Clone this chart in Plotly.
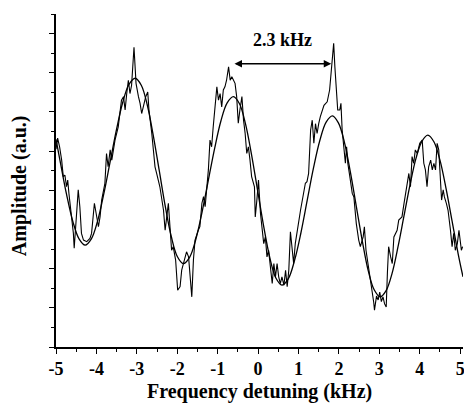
import plotly.graph_objects as go

# ---- data ----
# measured (noisy) spectrum: frequency detuning (kHz) / amplitude (a.u.)
data_x = [
    -5.00, -4.96, -4.91, -4.86, -4.82, -4.78, -4.74, -4.71, -4.68, -4.63,
    -4.57, -4.55, -4.51, -4.47, -4.45, -4.41, -4.37, -4.32, -4.24, -4.16,
    -4.12, -4.05, -3.99, -3.95, -3.91, -3.87, -3.79, -3.75, -3.71, -3.66,
    -3.62, -3.54, -3.46, -3.38, -3.33, -3.29, -3.25, -3.21, -3.17, -3.13,
    -3.07, -3.02, -2.96, -2.92, -2.88, -2.84, -2.78, -2.73, -2.70, -2.63,
    -2.55, -2.51, -2.43, -2.34, -2.30, -2.26, -2.22, -2.18, -2.14, -2.10,
    -2.04, -1.99, -1.93, -1.89, -1.82, -1.77, -1.72, -1.68, -1.64, -1.60,
    -1.56, -1.48, -1.44, -1.39, -1.35, -1.31, -1.27, -1.23, -1.19, -1.15,
    -1.11, -1.06, -1.02, -0.98, -0.94, -0.90, -0.86, -0.82, -0.78, -0.73,
    -0.69, -0.65, -0.61, -0.57, -0.53, -0.49, -0.45, -0.40, -0.36, -0.32,
    -0.28, -0.24, -0.20, -0.16, -0.09, -0.07, -0.03, 0.01, 0.06, 0.10,
    0.14, 0.18, 0.22, 0.26, 0.31, 0.35, 0.39, 0.43, 0.47, 0.51,
    0.55, 0.59, 0.64, 0.68, 0.72, 0.76, 0.80, 0.84, 0.88, 0.92,
    0.97, 1.05, 1.17, 1.21, 1.25, 1.30, 1.34, 1.38, 1.42, 1.46,
    1.50, 1.54, 1.63, 1.71, 1.77, 1.81, 1.84, 1.87, 1.90, 1.93,
    1.97, 2.02, 2.05, 2.08, 2.12, 2.16, 2.19, 2.22, 2.27, 2.33,
    2.37, 2.43, 2.49, 2.53, 2.60, 2.63, 2.67, 2.72, 2.78, 2.82,
    2.86, 2.88, 2.93, 2.97, 3.01, 3.05, 3.09, 3.13, 3.17, 3.20,
    3.23, 3.28, 3.32, 3.36, 3.44, 3.48, 3.56, 3.61, 3.65, 3.69,
    3.73, 3.77, 3.81, 3.85, 3.89, 3.94, 4.00, 4.06, 4.10, 4.14,
    4.18, 4.22, 4.27, 4.31, 4.35, 4.39, 4.43, 4.47, 4.51, 4.54,
    4.58, 4.61, 4.66, 4.70, 4.76, 4.80, 4.84, 4.88, 4.93, 4.97,
    5.03, 5.06,
]
data_y = [
    5.05, 5.33, 5.10, 4.77, 4.35, 4.39, 4.09, 4.26, 3.92, 3.49,
    2.90, 2.52, 3.07, 3.67, 4.01, 3.58, 2.90, 2.73, 2.69, 2.77,
    2.90, 3.67, 3.24, 3.07, 3.32, 3.75, 4.18, 4.94, 4.60, 5.03,
    4.77, 5.28, 5.62, 6.30, 6.39, 6.05, 6.47, 6.81, 6.47, 6.68,
    7.65, 6.73, 6.39, 6.22, 5.96, 6.13, 6.39, 6.51, 6.05, 5.45,
    4.60, 4.43, 4.09, 3.49, 2.98, 3.32, 3.67, 3.07, 2.47, 2.56,
    2.22, 1.45, 1.54, 1.96, 2.22, 2.43, 2.30, 1.79, 1.28, 2.22,
    2.73, 2.98, 3.07, 3.67, 3.84, 3.58, 4.09, 4.52, 5.28, 5.11,
    5.62, 6.22, 6.64, 6.30, 6.47, 6.13, 6.56, 6.64, 6.81, 7.15,
    6.81, 6.90, 6.81, 6.73, 6.39, 5.71, 6.05, 6.39, 5.79, 5.45,
    4.94, 5.11, 4.77, 4.35, 4.09, 3.32, 3.75, 4.26, 3.40, 2.98,
    2.64, 2.81, 2.30, 2.47, 1.96, 1.62, 2.13, 1.79, 2.13, 1.79,
    1.62, 1.79, 1.58, 1.96, 1.54, 1.96, 2.94, 2.56, 2.13, 2.64,
    2.98, 3.49, 4.18, 4.22, 4.43, 5.54, 5.79, 5.20, 5.70, 5.45,
    5.70, 5.88, 6.17, 6.26, 6.56, 6.98, 7.32, 7.75, 7.15, 6.56,
    6.05, 6.05, 6.22, 5.54, 5.03, 4.69, 5.11, 4.69, 4.35, 3.92,
    3.83, 3.15, 2.73, 2.56, 2.81, 3.07, 2.47, 2.13, 1.79, 1.45,
    1.15, 0.94, 1.30, 1.20, 1.40, 1.16, 1.28, 1.10, 1.02, 1.90,
    2.56, 2.30, 2.13, 2.81, 2.98, 3.24, 3.32, 3.66, 3.92, 4.09,
    4.43, 4.09, 4.86, 4.69, 5.03, 4.94, 5.20, 5.28, 4.69, 4.52,
    4.09, 4.60, 4.77, 4.52, 4.69, 4.52, 5.20, 5.03, 4.09, 3.75,
    4.01, 3.83, 3.66, 3.49, 2.98, 2.56, 2.90, 2.47, 2.64, 2.98,
    2.47, 2.56,
]

# smooth fitted curve
fit_x = [
    -5.00, -4.89, -4.74, -4.585, -4.43, -4.28, -4.125, -3.97, -3.815, -3.66,
    -3.505, -3.35, -3.195, -3.04, -2.89, -2.74, -2.594, -2.445, -2.296, -2.148,
    -1.999, -1.85, -1.695, -1.54, -1.385, -1.23, -1.075, -0.92, -0.765, -0.61,
    -0.46, -0.31, -0.16, -0.01, 0.14, 0.29, 0.44, 0.59, 0.746, 0.9025,
    1.059, 1.215, 1.371, 1.5275, 1.684, 1.84, 1.9875, 2.135, 2.2825, 2.43,
    2.5775, 2.725, 2.8725, 3.02, 3.1675, 3.315, 3.4625, 3.61, 3.7575, 3.905,
    4.0525, 4.20, 4.35, 4.50, 4.65, 4.80, 4.95, 5.07,
]
fit_y = [
    5.30, 4.70, 3.90, 3.21, 2.76, 2.60, 2.76, 3.22, 3.92, 4.73,
    5.54, 6.24, 6.70, 6.86, 6.68, 6.17, 5.40, 4.50, 3.59, 2.82,
    2.31, 2.13, 2.29, 2.75, 3.45, 4.26, 5.07, 5.77, 6.23, 6.39,
    6.21, 5.69, 4.90, 3.985, 3.07, 2.28, 1.76, 1.58, 1.74, 2.21,
    2.91, 3.74, 4.57, 5.27, 5.74, 5.90, 5.72, 5.23, 4.47, 3.59,
    2.71, 1.95, 1.46, 1.28, 1.44, 1.88, 2.56, 3.345, 4.13, 4.81,
    5.25, 5.41, 5.24, 4.77, 4.05, 3.215, 2.38, 1.79,
]

x_tick_vals = [-5, -4, -3, -2, -1, 0, 1, 2, 3, 4, 5]
x_tick_text = ["-5", "-4", "-3", "-2", "-1", "0", "1", "2", "3", "4", "5"]

spacing_label = "2.3 kHz"
spacing_label_pos = (0.61, 7.83)
spacing_arrow_x = [-0.62, 1.81]
spacing_arrow_y = 7.23

x_title = "Frequency detuning (kHz)"
y_title = "Amplitude (a.u.)"

# ---- figure ----
FONT = "Liberation Serif, Times New Roman, serif"

fig = go.Figure()
fig.add_trace(go.Scatter(x=data_x, y=data_y, mode="lines",
                         line=dict(color="black", width=1.1),
                         hoverinfo="skip"))
fig.add_trace(go.Scatter(x=fit_x, y=fit_y, mode="lines",
                         line=dict(color="black", width=1.3, shape="spline"),
                         hoverinfo="skip"))

fig.update_layout(
    width=464, height=405,
    margin=dict(l=56, r=1, t=14, b=58, autoexpand=False),
    plot_bgcolor="white", paper_bgcolor="white",
    showlegend=False,
    font=dict(family=FONT, color="black"),
)

fig.update_xaxes(
    range=[-5, 5.07], automargin=False,
    tickmode="array", tickvals=x_tick_vals, ticktext=x_tick_text,
    ticks="outside", ticklen=5, tickwidth=1.3, tickcolor="black",
    ticklabeloverflow="allow",
    showline=True, linecolor="black", linewidth=1.6,
    showgrid=False, zeroline=False,
    tickfont=dict(family=FONT, size=18, color="black", weight="bold"),
    minor=dict(dtick=0.5, tick0=0, ticks="outside", ticklen=3,
               tickwidth=1, tickcolor="black", showgrid=False),
)
fig.update_yaxes(
    range=[0, 8.5], automargin=False,
    tickmode="linear", tick0=0, dtick=1,
    ticks="outside", ticklen=5, tickwidth=1.3, tickcolor="black",
    showticklabels=False,
    showline=True, linecolor="black", linewidth=1.6,
    showgrid=False, zeroline=False,
    minor=dict(dtick=0.5, tick0=0, ticks="outside", ticklen=3,
               tickwidth=1, tickcolor="black", showgrid=False),
)

# spacing annotation
fig.add_annotation(x=spacing_label_pos[0], y=spacing_label_pos[1],
                   xref="x", yref="y", text=spacing_label, showarrow=False,
                   xanchor="center", yanchor="middle",
                   font=dict(family=FONT, size=18, color="black", weight="bold"))
fig.add_annotation(x=spacing_arrow_x[1], y=spacing_arrow_y,
                   ax=spacing_arrow_x[0], ay=spacing_arrow_y,
                   xref="x", yref="y", axref="x", ayref="y",
                   text="", showarrow=True, arrowhead=2, startarrowhead=2,
                   arrowside="end+start", arrowsize=1, startarrowsize=1,
                   arrowwidth=1.5, arrowcolor="black", standoff=0, startstandoff=0)

# axis titles
fig.add_annotation(x=0.5, y=-0.135, xref="paper", yref="paper",
                   text=x_title, showarrow=False,
                   xanchor="center", yanchor="middle",
                   font=dict(family=FONT, size=20, color="black", weight="bold"))
fig.add_annotation(x=-0.091, y=0.486, xref="paper", yref="paper",
                   text=y_title, showarrow=False, textangle=-90,
                   xanchor="center", yanchor="middle",
                   font=dict(family=FONT, size=20, color="black", weight="bold"))

fig.write_html(
    "out.html",
    config={"displayModeBar": False},
    post_script="document.body.style.margin='0';document.body.style.padding='0';",
)
